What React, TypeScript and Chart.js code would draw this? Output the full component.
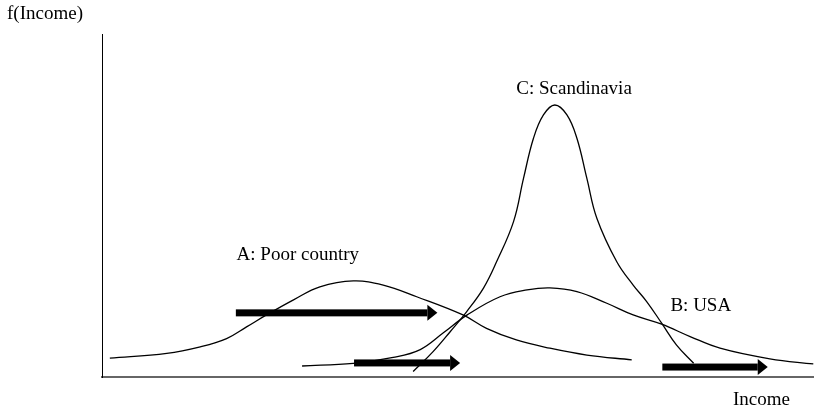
import React, { useEffect, useRef } from "react";
import { Chart, registerables } from "chart.js";

Chart.register(...registerables);

// Curve A: Poor country (income, density)
const poorIncome = [1.1, 9.1, 13.8, 17.5, 20.3, 23.1, 26.9, 30.6, 35.3, 39.5, 44.2, 50.7, 54.0, 58.2, 62.9, 68.1, 74.4];
const poorDensity = [5.5, 6.9, 8.8, 11.2, 14.6, 18.1, 22.5, 26.3, 28.0, 26.8, 23.4, 18.1, 14.2, 10.8, 8.4, 6.4, 5.0];

// Curve B: USA
const usaIncome = [28.1, 35.3, 40.9, 44.7, 47.9, 51.3, 55.9, 59.7, 62.9, 66.7, 70.9, 74.6, 78.6, 82.6, 86.8, 93.8, 99.9];
const usaDensity = [3.2, 4.0, 5.7, 8.0, 12.8, 18.1, 23.4, 25.4, 26.0, 24.9, 21.5, 18.1, 15.4, 11.8, 8.4, 5.3, 3.8];

// Curve C: Scandinavia
const scanIncome = [43.7, 46.5, 48.9, 51.2, 53.6, 55.4, 57.8, 59.2, 60.6, 62.0, 63.6, 65.3, 66.7, 68.1, 69.5, 72.3, 74.6, 76.5, 78.6, 80.7, 83.1];
const scanDensity = [1.6, 7.4, 13.2, 19.0, 26.0, 33.5, 45.3, 57.9, 69.6, 76.4, 79.3, 76.4, 69.6, 57.9, 46.3, 33.6, 26.8, 22.0, 15.7, 9.3, 4.0];

// Arrows (income shifts): start, end, level
const arrowStart = [18.8, 35.4, 78.7];
const arrowEnd = [47.1, 50.3, 93.5];
const arrowLevel = [18.7, 4.1, 2.9];

// Curve labels
const labelTexts = ["A: Poor country", "C: Scandinavia", "B: USA"];
const labelIncome = [27.5, 66.3, 84.1];
const labelDensity = [35.6, 84.0, 20.7];

const yAxisTitle = "f(Income)";
const xAxisTitle = "Income";

const FONT = '19px "Liberation Serif", "Times New Roman", serif';

const toPoints = (xs: number[], ys: number[]) => xs.map((x, i) => ({ x, y: ys[i] }));

const annotationPlugin = {
  id: "annotations",
  afterDatasetsDraw(chart: any) {
    const ctx = chart.ctx;
    const xs = chart.scales.x;
    const ys = chart.scales.y;
    ctx.save();
    // arrows
    ctx.fillStyle = "#000";
    for (let i = 0; i < arrowStart.length; i++) {
      const x0 = xs.getPixelForValue(arrowStart[i]);
      const x1 = xs.getPixelForValue(arrowEnd[i]);
      const y = ys.getPixelForValue(arrowLevel[i]);
      const head = 10;
      ctx.fillRect(x0, y - 3.5, x1 - head - x0, 7);
      ctx.beginPath();
      ctx.moveTo(x1 - head, y - 8);
      ctx.lineTo(x1, y);
      ctx.lineTo(x1 - head, y + 8);
      ctx.closePath();
      ctx.fill();
    }
    // labels
    ctx.font = FONT;
    ctx.fillStyle = "#000";
    ctx.textAlign = "center";
    ctx.textBaseline = "middle";
    for (let i = 0; i < labelTexts.length; i++) {
      ctx.fillText(labelTexts[i], xs.getPixelForValue(labelIncome[i]), ys.getPixelForValue(labelDensity[i]));
    }
    // axis titles
    ctx.textAlign = "left";
    ctx.fillText(yAxisTitle, 7, 14);
    ctx.textAlign = "right";
    ctx.fillText(xAxisTitle, chart.chartArea.right - 24, 400);
    ctx.restore();
  },
};

export default function App() {
  const ref = useRef<HTMLCanvasElement | null>(null);
  useEffect(() => {
    if (!ref.current) return;
    const lineStyle = {
      borderColor: "#000",
      borderWidth: 1.3,
      pointRadius: 0,
      tension: 0.4,
      fill: false,
    };
    const chart = new Chart(ref.current, {
      type: "line",
      data: {
        datasets: [
          { label: "A: Poor country", data: toPoints(poorIncome, poorDensity), ...lineStyle },
          { label: "B: USA", data: toPoints(usaIncome, usaDensity), ...lineStyle },
          { label: "C: Scandinavia", data: toPoints(scanIncome, scanDensity), ...lineStyle },
        ],
      },
      options: {
        animation: false,
        responsive: false,
        devicePixelRatio: 1,
        layout: { padding: { left: 94, top: 34, right: 0, bottom: 27 } },
        plugins: { legend: { display: false }, tooltip: { enabled: false } },
        scales: {
          x: {
            type: "linear",
            min: 0,
            max: 100,
            grid: { display: false },
            ticks: { display: false },
            border: { display: true, color: "#666", width: 2 },
          },
          y: {
            type: "linear",
            min: 0,
            max: 100,
            grid: { display: false },
            ticks: { display: false },
            border: { display: true, color: "#000", width: 1 },
          },
        },
      },
      plugins: [annotationPlugin],
    });
    return () => chart.destroy();
  }, []);
  return (
    <div style={{ position: "fixed", left: 0, top: 0, width: 814, height: 412, background: "#fff" }}>
      <canvas ref={ref} width={814} height={412} style={{ display: "block" }} />
    </div>
  );
}
